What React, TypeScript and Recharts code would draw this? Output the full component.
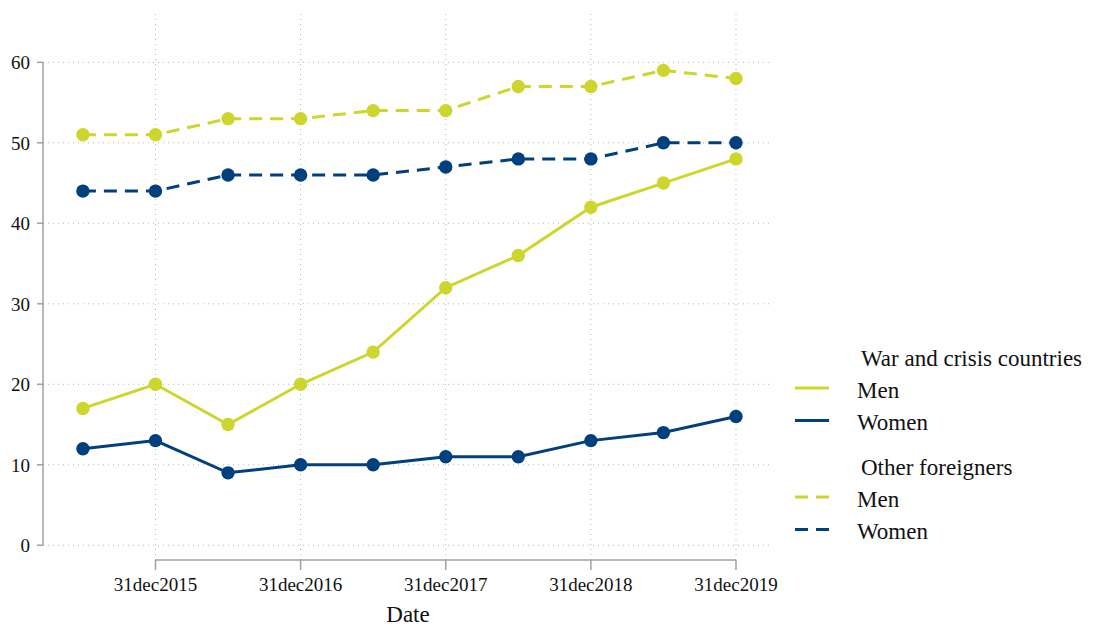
import React from "react";
import { LineChart, Line, XAxis, YAxis, ReferenceLine } from "recharts";

const dateLabels = [
  "30jun2015", "31dec2015", "30jun2016", "31dec2016", "30jun2017",
  "31dec2017", "30jun2018", "31dec2018", "30jun2019", "31dec2019",
];
const warMen = [17, 20, 15, 20, 24, 32, 36, 42, 45, 48];
const warWomen = [12, 13, 9, 10, 10, 11, 11, 13, 14, 16];
const otherMen = [51, 51, 53, 53, 54, 54, 57, 57, 59, 58];
const otherWomen = [44, 44, 46, 46, 46, 47, 48, 48, 50, 50];
const xTicks = [1, 3, 5, 7, 9];
const yTicks = [0, 10, 20, 30, 40, 50, 60];

const YELLOW = "#cdd62c";
const NAVY = "#00407f";
const AXIS = "#a0a0a0";
const GRID = "#b8b8b8";
const FONT = "'Liberation Serif', 'Times New Roman', serif";

const X_MIN = -0.55;
const X_MAX = 9.51;
const Y_MIN = -1.83;
const Y_MAX = 66.5;

const data = dateLabels.map((d, i) => ({
  x: i,
  date: d,
  warMen: warMen[i],
  warWomen: warWomen[i],
  otherMen: otherMen[i],
  otherWomen: otherWomen[i],
}));

const legendGroups = [
  { title: "War and crisis countries", dash: undefined as string | undefined, items: [{ label: "Men", color: YELLOW }, { label: "Women", color: NAVY }] },
  { title: "Other foreigners", dash: "13 8", items: [{ label: "Men", color: YELLOW }, { label: "Women", color: NAVY }] },
];

function LegendBox() {
  const rows: React.ReactNode[] = [];
  const groupTops = [358, 467];
  legendGroups.forEach((g, gi) => {
    const ty = groupTops[gi];
    rows.push(
      <text key={`t${gi}`} x={861} y={ty} dominantBaseline="central" fontSize={23} fontFamily={FONT} fill="#111">
        {g.title}
      </text>
    );
    g.items.forEach((it, ii) => {
      const y = ty + 32 + ii * 32.5;
      rows.push(
        <g key={`i${gi}-${ii}`}>
          <line x1={795} x2={829} y1={y - 2} y2={y - 2} stroke={it.color} strokeWidth={3} strokeDasharray={g.dash} />
          <text x={857} y={y} dominantBaseline="central" fontSize={23} fontFamily={FONT} fill="#111">
            {it.label}
          </text>
        </g>
      );
    });
  });
  return (
    <svg width={1093} height={626} style={{ position: "absolute", left: 0, top: 0, pointerEvents: "none" }}>
      {rows}
    </svg>
  );
}

export default function App() {
  const dotStyle = (c: string) => ({ r: 6.7, fill: c, stroke: "none", strokeWidth: 0 });
  return (
    <div style={{ position: "absolute", left: 0, top: 0, width: 1093, height: 626, background: "#fff" }}>
      <LineChart width={1093} height={626} data={data} margin={{ top: 10, right: 320, left: 0, bottom: 0 }}>
        <XAxis
          dataKey="x"
          type="number"
          domain={[X_MIN, X_MAX]}
          ticks={xTicks}
          tickFormatter={(v: number) => dateLabels[v]}
          axisLine={false}
          tickLine={{ stroke: AXIS, strokeWidth: 1.5 }}
          tickSize={10}
          tickMargin={8}
          height={66}
          tick={{ fontSize: 19, fontFamily: FONT, fill: "#111" }}
          allowDataOverflow
          label={{ value: "Date", position: "insideBottom", offset: 4, fontSize: 23, fontFamily: FONT, fill: "#111" }}
        />
        <YAxis
          type="number"
          domain={[Y_MIN, Y_MAX]}
          ticks={yTicks}
          axisLine={false}
          tickLine={{ stroke: AXIS, strokeWidth: 1.5 }}
          tickSize={6}
          tickMargin={7}
          width={43}
          allowDataOverflow
          tick={{ fontSize: 19, fontFamily: FONT, fill: "#111" }}
        />
        {yTicks.map((t) => (
          <ReferenceLine key={`gy${t}`} y={t} stroke={GRID} strokeDasharray="1 4" strokeWidth={1} ifOverflow="visible" />
        ))}
        {xTicks.map((t) => (
          <ReferenceLine key={`gx${t}`} x={t} stroke={GRID} strokeDasharray="1 4" strokeWidth={1} ifOverflow="visible" />
        ))}
        <ReferenceLine
          segment={[{ x: X_MIN, y: 0 }, { x: X_MIN, y: 60 }]}
          stroke={AXIS}
          strokeWidth={1.5}
          ifOverflow="visible"
        />
        <ReferenceLine
          segment={[{ x: 1, y: Y_MIN }, { x: 9, y: Y_MIN }]}
          stroke={AXIS}
          strokeWidth={1.5}
          ifOverflow="visible"
        />
        <Line dataKey="otherMen" stroke={YELLOW} strokeWidth={3} strokeDasharray="13 8" dot={dotStyle(YELLOW)} activeDot={false} isAnimationActive={false} type="linear" />
        <Line dataKey="otherWomen" stroke={NAVY} strokeWidth={3} strokeDasharray="13 8" dot={dotStyle(NAVY)} activeDot={false} isAnimationActive={false} type="linear" />
        <Line dataKey="warMen" stroke={YELLOW} strokeWidth={3} dot={dotStyle(YELLOW)} activeDot={false} isAnimationActive={false} type="linear" />
        <Line dataKey="warWomen" stroke={NAVY} strokeWidth={3} dot={dotStyle(NAVY)} activeDot={false} isAnimationActive={false} type="linear" />
      </LineChart>
      <LegendBox />
    </div>
  );
}
